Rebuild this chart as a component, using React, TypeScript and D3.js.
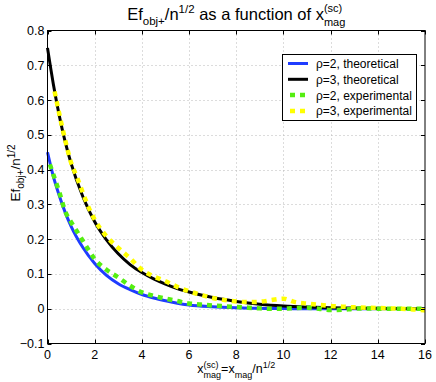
import { useEffect, useRef } from "react";
import * as d3 from "d3";

// theoretical curves
const xTheory = [0, 0.25, 0.5, 0.75, 1, 1.5, 2, 2.5, 3, 3.5, 4, 4.5, 5, 5.5, 6, 7, 8, 9, 10, 11, 12, 13, 14, 15, 16];
const rho2Theory = [0.45, 0.38, 0.325, 0.277, 0.237, 0.176, 0.13, 0.096, 0.072, 0.055, 0.041, 0.031, 0.023, 0.016, 0.011, 0.006, 0.003, 0.001, 0.0005, 0, 0, 0, 0, 0, 0];
const rho3Theory = [0.75, 0.645, 0.555, 0.48, 0.418, 0.322, 0.25, 0.198, 0.158, 0.127, 0.104, 0.086, 0.071, 0.058, 0.048, 0.032, 0.021, 0.013, 0.008, 0.005, 0.003, 0.002, 0.001, 0.0005, 0];

// experimental curves
const xExp2 = [0.1, 0.25, 0.5, 0.75, 1, 1.25, 1.5, 1.75, 2, 2.5, 3, 3.5, 4, 4.5, 5, 5.5, 6, 6.5, 7, 7.5, 8, 8.5, 9, 9.5, 10, 10.5, 11, 11.5, 12, 12.5, 13, 13.5, 14, 14.5, 15, 15.5, 16];
const rho2Exp = [0.415, 0.385, 0.335, 0.28, 0.249, 0.222, 0.195, 0.168, 0.143, 0.112, 0.09, 0.066, 0.047, 0.037, 0.029, 0.022, 0.015, 0.012, 0.009, 0.007, 0.005, 0.003, 0.001, 0, 0, 0.002, 0.003, 0, -0.004, -0.003, 0, 0.001, 0, 0, 0, 0, 0];
const xExp3 = [0.3, 0.5, 0.75, 1, 1.25, 1.5, 1.75, 2, 2.5, 3, 3.5, 4, 4.5, 5, 5.5, 6, 6.5, 7, 7.5, 8, 8.5, 9, 9.5, 10, 10.5, 11, 11.5, 12, 12.5, 13, 13.5, 14, 14.5, 15, 15.5, 16];
const rho3Exp = [0.625, 0.56, 0.485, 0.42, 0.378, 0.333, 0.29, 0.256, 0.208, 0.175, 0.145, 0.112, 0.093, 0.079, 0.063, 0.05, 0.04, 0.031, 0.025, 0.021, 0.019, 0.02, 0.025, 0.029, 0.019, 0.015, 0.011, 0.008, 0.006, 0.004, 0.003, 0.002, 0.001, 0, -0.002, -0.005];

const xTicks = [0, 2, 4, 6, 8, 10, 12, 14, 16];
const xTickLabels = ["0", "2", "4", "6", "8", "10", "12", "14", "16"];
const yTicks = [-0.1, 0, 0.1, 0.2, 0.3, 0.4, 0.5, 0.6, 0.7, 0.8];
const yTickLabels = ["\u22120.1", "0", "0.1", "0.2", "0.3", "0.4", "0.5", "0.6", "0.7", "0.8"];

const seriesNames = ["\u03c1=2, theoretical", "\u03c1=3, theoretical", "\u03c1=2, experimental", "\u03c1=3, experimental"];

const FONT = "'Liberation Sans', Arial, Helvetica, sans-serif";

// write a string with sub/superscripts, parts laid out left to right
function richText(parent, parts) {
  const g = parent.append("g");
  let x = 0;
  let lastStart = 0;
  parts.forEach((p) => {
    const startX = p.stack ? lastStart : x;
    const t = g.append("text")
      .attr("x", startX).attr("y", p.dy || 0)
      .attr("font-size", p.size)
      .style("white-space", "pre")
      .text(p.t);
    const w = t.node().getComputedTextLength();
    if (p.stack) {
      x = Math.max(x, startX + w);
    } else {
      lastStart = startX;
      x = startX + w;
    }
  });
  return { g, width: x };
}

export default function App() {
  const svgRef = useRef(null);

  useEffect(() => {
    const width = 436;
    const height = 382;
    const svg = d3.select(svgRef.current);
    svg.selectAll("*").remove();
    svg.attr("width", width).attr("height", height)
      .attr("font-family", FONT);

    const xScale = d3.scaleLinear().domain([0, 16]).range([47.5, 425]);
    const yScale = d3.scaleLinear().domain([-0.1, 0.8]).range([343.5, 30.5]);
    const [x0, x1] = xScale.range();
    const [y0, y1] = yScale.range();

    svg.append("rect").attr("width", width).attr("height", height).attr("fill", "white");

    // ----- grid -----
    const grid = svg.append("g")
      .attr("stroke", "#b8b8b8").attr("stroke-width", 1)
      .attr("stroke-dasharray", "1,3");
    xTicks.slice(1, -1).forEach((t) => {
      grid.append("line")
        .attr("x1", Math.round(xScale(t)) + 0.5).attr("x2", Math.round(xScale(t)) + 0.5)
        .attr("y1", y1).attr("y2", y0);
    });
    yTicks.slice(1, -1).forEach((t) => {
      grid.append("line")
        .attr("y1", Math.round(yScale(t)) + 0.5).attr("y2", Math.round(yScale(t)) + 0.5)
        .attr("x1", x0).attr("x2", x1);
    });

    // ----- curves -----
    const line = d3.line()
      .x((d) => xScale(d[0]))
      .y((d) => yScale(d[1]))
      .curve(d3.curveMonotoneX);
    const curves = [
      { xs: xTheory, ys: rho2Theory, color: "#1f3cff", w: 3, dash: null },
      { xs: xTheory, ys: rho3Theory, color: "#000000", w: 3, dash: null },
      { xs: xExp2, ys: rho2Exp, color: "#55ee11", w: 4.5, dash: "5,5" },
      { xs: xExp3, ys: rho3Exp, color: "#ffff00", w: 4.5, dash: "5,5" },
    ];
    const plot = svg.append("g");
    curves.forEach((c) => {
      plot.append("path")
        .attr("d", line(c.xs.map((v, i) => [v, c.ys[i]])))
        .attr("fill", "none")
        .attr("stroke", c.color)
        .attr("stroke-width", c.w)
        .attr("stroke-dasharray", c.dash);
    });

    // ----- box + inward ticks -----
    svg.append("rect")
      .attr("x", x0).attr("y", y1).attr("width", x1 - x0).attr("height", y0 - y1)
      .attr("fill", "none").attr("stroke", "black").attr("stroke-width", 1);
    const ticks = svg.append("g").attr("stroke", "black").attr("stroke-width", 1);
    const tl = 4;
    xTicks.forEach((t) => {
      const px = Math.round(xScale(t)) + 0.5;
      ticks.append("line").attr("x1", px).attr("x2", px).attr("y1", y0).attr("y2", y0 - tl);
      ticks.append("line").attr("x1", px).attr("x2", px).attr("y1", y1).attr("y2", y1 + tl);
    });
    yTicks.forEach((t) => {
      const py = Math.round(yScale(t)) + 0.5;
      ticks.append("line").attr("y1", py).attr("y2", py).attr("x1", x0).attr("x2", x0 + tl);
      ticks.append("line").attr("y1", py).attr("y2", py).attr("x1", x1).attr("x2", x1 - tl);
    });

    // tick labels
    xTicks.forEach((t, i) => {
      svg.append("text")
        .attr("x", xScale(t)).attr("y", 359)
        .attr("text-anchor", "middle").attr("font-size", 12.5)
        .text(xTickLabels[i]);
    });
    yTicks.forEach((t, i) => {
      svg.append("text")
        .attr("x", x0 - 3).attr("y", yScale(t) + 4.5)
        .attr("text-anchor", "end").attr("font-size", 12.5)
        .text(yTickLabels[i]);
    });

    // ----- title -----
    const title = richText(svg, [
      { t: "Ef", size: 16.5 },
      { t: "obj+", size: 11.5, dy: 5 },
      { t: "/n", size: 16.5 },
      { t: "1/2", size: 11.5, dy: -7.5 },
      { t: " as a function of x", size: 16.5 },
      { t: "(sc)", size: 11, dy: -8.5 },
      { t: "mag", size: 11, dy: 5.5, stack: true },
    ]);
    title.g.attr("transform", `translate(${(x0 + x1) / 2 - title.width / 2},20)`);

    // ----- x label -----
    const xl = richText(svg, [
      { t: "x", size: 12.5 },
      { t: "(sc)", size: 9, dy: -5.5 },
      { t: "mag", size: 9, dy: 4.5, stack: true },
      { t: "=x", size: 12.5 },
      { t: "mag", size: 9, dy: 4.5 },
      { t: "/n", size: 12.5 },
      { t: "1/2", size: 9, dy: -5.5 },
    ]);
    xl.g.attr("transform", `translate(${(x0 + x1) / 2 - xl.width / 2},373)`);

    // ----- y label -----
    const yl = richText(svg, [
      { t: "Ef", size: 13.5 },
      { t: "obj+", size: 10, dy: 4 },
      { t: "/n", size: 13.5 },
      { t: "1/2", size: 10, dy: -5.5 },
    ]);
    yl.g.attr("transform", `translate(20,${173 + yl.width / 2}) rotate(-90)`);

    // ----- legend -----
    const legend = svg.append("g");
    legend.append("rect")
      .attr("x", 282.5).attr("y", 54.5).attr("width", 134).attr("height", 66)
      .attr("fill", "white").attr("stroke", "black").attr("stroke-width", 1);
    seriesNames.forEach((name, i) => {
      const ly = 63.5 + i * 15.8;
      legend.append("line")
        .attr("x1", 288).attr("x2", 308).attr("y1", ly).attr("y2", ly)
        .attr("stroke", curves[i].color)
        .attr("stroke-width", curves[i].w)
        .attr("stroke-dasharray", curves[i].dash)
        .attr("stroke-dashoffset", curves[i].dash ? -2 : null);
      legend.append("text")
        .attr("x", 316).attr("y", ly + 4.5)
        .attr("font-size", 12)
        .text(name);
    });
  }, []);

  return (
    <div style={{ position: "absolute", left: 0, top: 0 }}>
      <svg ref={svgRef}></svg>
    </div>
  );
}
